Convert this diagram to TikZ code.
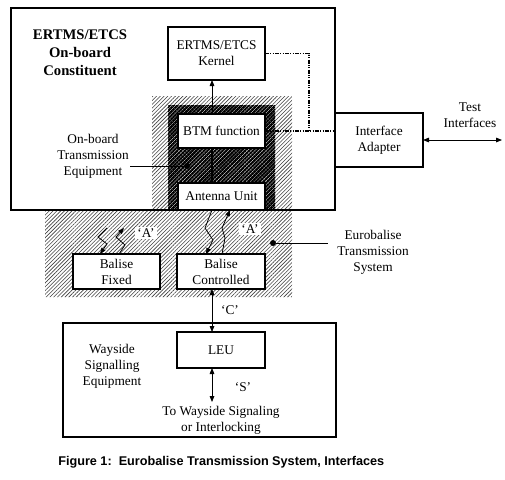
\documentclass[tikz,border=0pt]{standalone}
\usepackage{fontspec}
\setmainfont{Liberation Serif}
\newfontfamily\capfont{Liberation Sans}
\usetikzlibrary{patterns.meta,arrows.meta,calc}

\tikzset{
  blk/.style={draw,fill=white,line width=0.9pt,inner sep=0pt,outer sep=0pt,align=center,font=\fontsize{10}{12}\selectfont},
  frame/.style={draw,line width=1.6pt,inner sep=0pt,outer sep=0pt},
  lbl/.style={inner sep=0.75pt,align=center,font=\fontsize{10}{12}\selectfont},
  tag/.style={lbl,fill=white,inner sep=1.5pt},
  dot/.style={circle,fill,inner sep=0pt,minimum size=4.5pt},
  arr/.style={-{Triangle[length=4.5pt,width=3.5pt]},line width=0.6pt},
  dbl/.style={{Triangle[length=4.5pt,width=3.5pt]}-{Triangle[length=4.5pt,width=3.5pt]},line width=0.6pt},
  ctl/.style={line width=0.8pt,dash pattern=on 3pt off 1pt on 0.75pt off 1pt on 0.75pt off 1pt},
  hatch/.style={pattern={Lines[angle=45,distance=2pt,line width=0.45pt]},pattern color=black!75},
  darkhatch/.style={pattern={Lines[angle=45,distance=2pt,line width=1.65pt]},pattern color=black},
}

\begin{document}
\begin{tikzpicture}[x=0.75pt,y=0.75pt,yscale=-1,xscale=1]
		\useasboundingbox (0,0) rectangle (505,479);
		% hatched areas
		\fill[hatch] (152,96) -- (292,96) -- (292,297) -- (45,297) -- (45,210) -- (152,210) -- cycle;
		\fill[white] (168,105) rectangle (275,210);
		\fill[darkhatch] (168,105) rectangle (275,210);
		% frames
		\node[frame,minimum width=243pt,minimum height=151.5pt] (onboard) at (173,109) {};
		\node[frame,minimum width=204.75pt,minimum height=85.5pt] (wayside) at (199.5,380) {};
		\coordinate (mid) at (212,0);
		% blocks
		\node[blk,minimum width=72.75pt,minimum height=39.75pt] (kernel) at (216.5,53.5) {ERTMS/ETCS\\Kernel};
		\node[blk,minimum width=65.25pt,minimum height=25.5pt] (btm) at (221.5,131) {BTM function};
		\node[blk,minimum width=65.25pt,minimum height=20.25pt] (ant) at (221.5,196.5) {Antenna Unit};
		\node[blk,minimum width=66pt,minimum height=40.5pt] (adapter) at (379,140) {Interface\\Adapter};
		\node[blk,minimum width=65.25pt,minimum height=26.25pt] (fixed) at (116.5,271.5) {Balise\\Fixed};
		\node[blk,minimum width=66pt,minimum height=26.25pt] (ctrl) at (221,271.5) {Balise\\Controlled};
		\node[blk,minimum width=66pt,minimum height=27pt] (leu) at (221,350) {LEU};
		% labels
		\node[lbl,font=\fontsize{11}{13.5}\selectfont\bfseries] (title) at (80,53) {ERTMS/ETCS\\On-board\\Constituent};
		\node[lbl] (obte) at (93,156) {On-board\\Transmission\\Equipment};
		\node[lbl] (test) at (470,115) {Test\\Interfaces};
		\node[lbl] (euro) at (373,252) {Eurobalise\\Transmission\\System};
		\node[lbl] (wse) at (112,366) {Wayside\\Signalling\\Equipment};
		\node[lbl] (tows) at (221,420) {To Wayside Signaling\\or Interlocking};
		\node[tag] (a1) at (146,233) {`A'};
		\node[tag] (a2) at (250,229) {`A'};
		\node[lbl] (c) at (230,310) {`C'};
		\node[lbl] (s) at (243,387) {`S'};
		\node[anchor=west,inner sep=0pt,font=\capfont\bfseries\fontsize{9.5}{11}\selectfont] (cap) at (58,462) {Figure 1:\ \ Eurobalise Transmission System, Interfaces};
		% pointers
		\node[dot] (d1) at (187,166) {};
		\node[dot] (d2) at (273,243) {};
		\coordinate (e2) at (328,243);
		\draw[line width=0.6pt] (d1) -- (obte.east |- d1);
		\draw[line width=0.6pt] (d2) -- (e2);
		% connectors
		\draw[arr] (btm.north -| mid) -- (kernel.south -| mid);
		\draw[line width=1pt] (ant.north -| mid) -- (btm.south -| mid);
		\coordinate (jn) at (309,131);
		\draw[ctl] (kernel.east) -| (jn);
		\draw[ctl] (btm.east) -- (adapter.west |- btm.east);
		\coordinate (tip) at (502,140);
		\draw[dbl] (adapter.east) -- (tip);
		\draw[dbl] (ctrl.south -| mid) -- (leu.north -| mid);
		\coordinate (sig) at (212,402);
		\draw[dbl] (leu.south -| mid) -- (sig);
		% air gap
		\coordinate (za) at (107,228);
		\coordinate (zb) at (124,228);
		\draw[arr] (za) -- (98,237) -- (107,244) -- ($(fixed.north west)+(27,0)$);
		\draw[arr] ($(fixed.north west)+(46,0)$) -- (125,245) -- (116,237) -- (zb);
		\draw[arr] (ant.south -| mid) -- (205,228) -- (213,240) -- ($(ctrl.north west)+(29,0)$);
		\draw[arr] ($(ctrl.north west)+(45,0)$) -- (225,238) -- (222,228) -- ($(ant.south west)+(52,0)$);
\end{tikzpicture}
\end{document}
